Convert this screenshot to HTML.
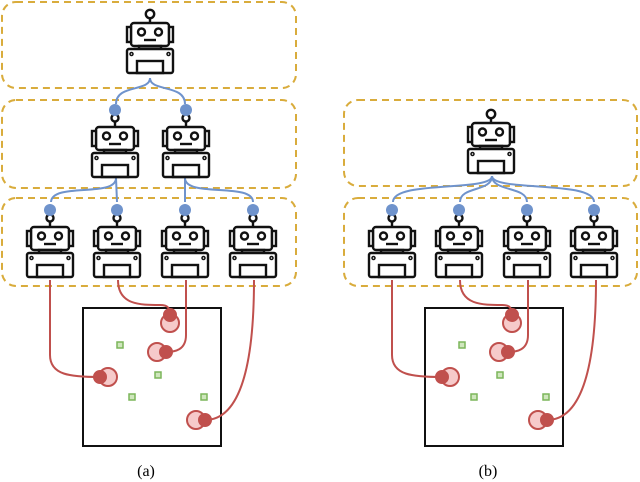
<!DOCTYPE html>
<html><head><meta charset="utf-8"><style>
html,body{margin:0;padding:0;background:#fff;}
svg{display:block;}
text{font-family:"Liberation Serif",serif;}
</style></head><body>
<svg width="640" height="482" viewBox="0 0 640 482" xmlns="http://www.w3.org/2000/svg">
<defs>
<g id="rb" fill="none" stroke="#111" stroke-width="2.4">
  <line x1="0" y1="8" x2="0" y2="13"/>
  <rect x="-19" y="13" width="38" height="23" rx="3" fill="#fff"/>
  <rect x="-23" y="17" width="4" height="15" fill="#fff"/>
  <rect x="19" y="17" width="4" height="15" fill="#fff"/>
  <circle cx="-8.5" cy="22" r="3.5"/>
  <circle cx="8.5" cy="22" r="3.5"/>
  <line x1="-6" y1="30" x2="6" y2="30"/>
  <rect x="-11" y="36" width="22" height="3"/>
  <rect x="-23" y="39" width="46" height="24" rx="2" fill="#fff"/>
  <circle cx="-18.5" cy="44" r="1.5" stroke-width="1.5"/>
  <circle cx="18.5" cy="44" r="1.5" stroke-width="1.5"/>
  <rect x="-13" y="51" width="26" height="12"/>
</g>
<g id="rtop">
  <use href="#rb"/>
  <circle cx="0" cy="4" r="4.2" fill="#fff" stroke="#111" stroke-width="2.4"/>
</g>
<g id="rcon">
  <use href="#rb"/>
  <circle cx="0" cy="4" r="3.5" fill="#fff" stroke="#111" stroke-width="2.4"/>
  <circle cx="0" cy="-4" r="6" fill="#6f93cc"/>
</g>
<g id="sq"><rect x="-3" y="-3" width="6" height="6" fill="#cfe6bd" stroke="#7cb55a" stroke-width="1.5"/></g>
</defs>

<g fill="none" stroke="#d9ac3c" stroke-width="2" stroke-dasharray="7,5">
  <rect x="2" y="2" width="294" height="86" rx="14"/>
  <rect x="2" y="100" width="294" height="88" rx="14"/>
  <rect x="2" y="198" width="294" height="88" rx="14"/>
  <rect x="344" y="100" width="293" height="86" rx="14"/>
  <rect x="344" y="198" width="293" height="88" rx="14"/>
</g>

<g fill="none" stroke="#6f93cc" stroke-width="2">
  <path d="M150 78 C150 92 116 84 116 104"/>
  <path d="M150 78 C150 92 185 84 185 104"/>
  <path d="M116 178 L117 202"/>
  <path d="M116 178 C116 198 52 182 51 202"/>
  <path d="M185 178 L185 202"/>
  <path d="M185 178 C185 198 253 182 253 202"/>
  <path d="M492 176 C492 192 393 180 393 202"/>
  <path d="M492 176 C492 192 460 186 460 202"/>
  <path d="M492 176 C492 192 527 186 527 202"/>
  <path d="M492 176 C492 192 594 180 594 202"/>
</g>

<use href="#rtop" x="150" y="10"/>
<use href="#rcon" x="115" y="114"/>
<use href="#rcon" x="186" y="114"/>
<use href="#rcon" x="50" y="214"/>
<use href="#rcon" x="117" y="214"/>
<use href="#rcon" x="185" y="214"/>
<use href="#rcon" x="253" y="214"/>

<use href="#rtop" x="491" y="110"/>
<use href="#rcon" x="392" y="214"/>
<use href="#rcon" x="459" y="214"/>
<use href="#rcon" x="527" y="214"/>
<use href="#rcon" x="594" y="214"/>

<g id="pa">
  <rect x="83" y="308" width="138" height="138" fill="none" stroke="#111" stroke-width="2"/>
  <use href="#sq" x="120" y="345"/>
  <use href="#sq" x="158" y="375"/>
  <use href="#sq" x="132" y="397"/>
  <use href="#sq" x="204" y="397"/>
  <g fill="none" stroke="#c0504d" stroke-width="2">
    <path d="M50 280 L50 355 C50 375 70 377 100 377"/>
    <path d="M118 280 C118 305 140 305 160 305 C168 305 170 308 170 315"/>
    <path d="M186 280 L186 335 C186 350 175 352 166 352"/>
    <path d="M254 280 C254 380 235 420 205 420"/>
  </g>
  <g stroke="#c0504d" stroke-width="2">
    <circle cx="108" cy="377" r="9" fill="#f6caca"/><circle cx="100" cy="377" r="6" fill="#c0504d"/>
    <circle cx="170" cy="323" r="9" fill="#f6caca"/><circle cx="170" cy="315" r="6" fill="#c0504d"/>
    <circle cx="157" cy="352" r="9" fill="#f6caca"/><circle cx="166" cy="352" r="6" fill="#c0504d"/>
    <circle cx="196" cy="420" r="9" fill="#f6caca"/><circle cx="205" cy="420" r="6" fill="#c0504d"/>
  </g>
</g>
<use href="#pa" x="342" y="0"/>

<text x="146" y="476" font-size="16" text-anchor="middle">(a)</text>
<text x="488" y="476" font-size="16" text-anchor="middle">(b)</text>
</svg>
</body></html>
